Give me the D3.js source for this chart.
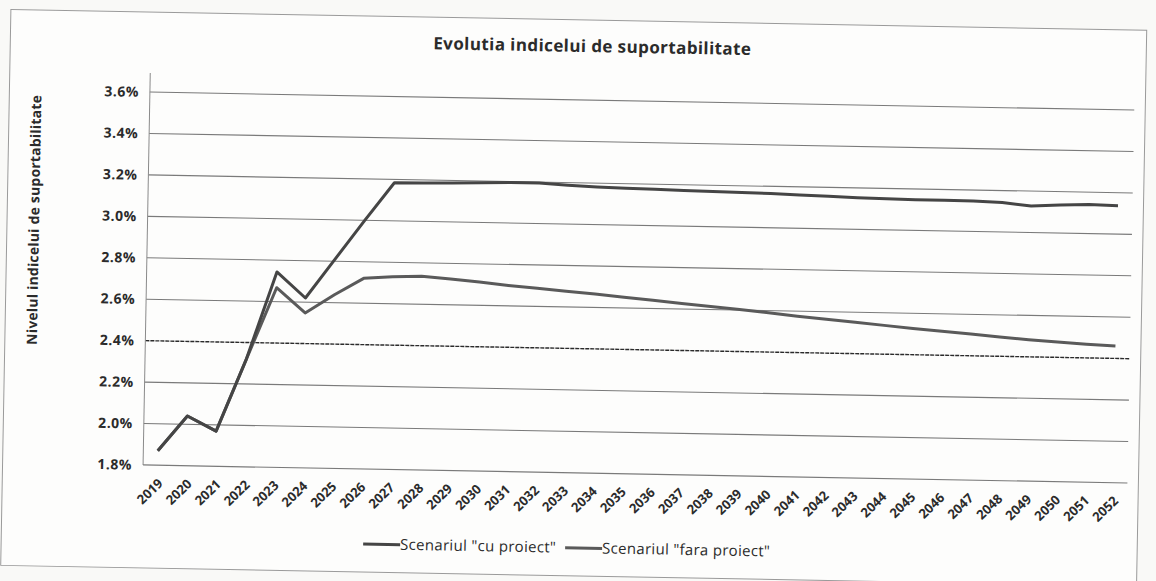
<!DOCTYPE html>
<html>
<head>
<meta charset="utf-8">
<title>Evolutia indicelui de suportabilitate</title>
<script src="https://d3js.org/d3.v7.min.js"></script>
<style>
  body { margin: 0; background: #f9f9f7; }
  svg text { font-family: "Open Sans", Lato, sans-serif; fill: #2b2b2b; }
</style>
</head>
<body>
<svg id="chart"></svg>
<script>
// data (values in %)
const years = d3.range(2019, 2053).map(String);
const cuProiect = [1.87, 2.04, 1.97, 2.32, 2.743, 2.62, 2.81, 3.0, 3.184, 3.185, 3.188, 3.192, 3.195, 3.195,
  3.187, 3.181, 3.178, 3.175, 3.172, 3.17, 3.168, 3.165, 3.161, 3.157, 3.153, 3.15, 3.148, 3.148,
  3.147, 3.142, 3.128, 3.135, 3.14, 3.137];
const faraProiect = [1.87, 2.04, 1.97, 2.32, 2.667, 2.548, 2.638, 2.72, 2.73, 2.735, 2.725, 2.712, 2.698, 2.687,
  2.676, 2.665, 2.652, 2.64, 2.627, 2.615, 2.603, 2.59, 2.575, 2.563, 2.551, 2.539, 2.527, 2.516,
  2.505, 2.493, 2.482, 2.474, 2.466, 2.46];
const yTicks = [1.8, 2.0, 2.2, 2.4, 2.6, 2.8, 3.0, 3.2, 3.4, 3.6];
const seriesNames = ['Scenariul "cu proiect"', 'Scenariul "fara proiect"'];
const seriesColors = ['#454545', '#5a5a5a'];

const W = 1156, H = 581;
const svg = d3.select('#chart').attr('width', W).attr('height', H);

// the scan is tilted by about one degree
const g = svg.append('g').attr('transform', 'rotate(1.05,147,278)');

g.append('rect')
  .attr('x', 6).attr('y', 12).attr('width', 1136).attr('height', 556)
  .attr('fill', '#fdfdfc').attr('stroke', '#9a9a9a').attr('stroke-width', 1);

const x0 = 146.5, x1 = 1131;
const xScale = d3.scalePoint().domain(years).range([x0, x1]).padding(0.5);
const yScale = d3.scaleLinear().domain([1.8, 3.6]).range([465, 92]);

// gridlines
g.append('g')
  .selectAll('line')
  .data(yTicks.slice(1))
  .join('line')
  .attr('x1', x0).attr('x2', x1)
  .attr('y1', d => yScale(d)).attr('y2', d => yScale(d))
  .attr('stroke', d => d === 2.4 ? '#2a2a2a' : '#7a7a7a')
  .attr('stroke-width', d => d === 2.4 ? 1.4 : 1.1)
  .attr('stroke-dasharray', d => d === 2.4 ? '4,1' : null);

// y axis
const yAxis = d3.axisLeft(yScale).tickValues(yTicks)
  .tickFormat(d => d.toFixed(1) + '%').tickSize(0).tickPadding(11);
const ya = g.append('g').attr('transform', `translate(${x0},0)`).call(yAxis);
ya.select('.domain').remove();
ya.selectAll('text').attr('font-size', 14).attr('font-weight', 'bold')
  .attr('letter-spacing', 0.5)
  .style('font-family', '"Open Sans", sans-serif').attr('fill', '#2b2b2b');
g.append('line').attr('x1', x0).attr('x2', x0).attr('y1', 73).attr('y2', 465)
  .attr('stroke', '#8a8a8a').attr('stroke-width', 1);

// x axis
const xAxis = d3.axisBottom(xScale).tickSize(0);
const xa = g.append('g').attr('transform', 'translate(0,465)').call(xAxis);
xa.select('.domain').remove();
g.append('line').attr('x1', x0).attr('x2', x1).attr('y1', 465).attr('y2', 465)
  .attr('stroke', '#7a7a7a').attr('stroke-width', 1.2);
xa.selectAll('text')
  .attr('font-size', 13).attr('font-weight', 'bold')
  .style('font-family', '"Open Sans", sans-serif').attr('fill', '#2b2b2b')
  .attr('text-anchor', 'end')
  .attr('dy', 0).attr('y', 0)
  .attr('transform', 'translate(6,19) rotate(-45)');

// lines
const line = d3.line().x((d, i) => xScale(years[i])).y(d => yScale(d));
[faraProiect, cuProiect].forEach((s, k) => {
  g.append('path').datum(s)
    .attr('d', line)
    .attr('fill', 'none')
    .attr('stroke', seriesColors[1 - k])
    .attr('stroke-width', 3)
    .attr('stroke-linejoin', 'round');
});

// title
g.append('text').attr('x', 588).attr('y', 44)
  .attr('text-anchor', 'middle').attr('font-size', 17).attr('font-weight', 'bold')
  .attr('letter-spacing', 0.4)
  .text('Evolutia indicelui de suportabilitate');

// y title
g.append('text')
  .attr('transform', 'translate(38,222) rotate(-90)')
  .attr('text-anchor', 'middle').attr('font-size', 14).attr('font-weight', 'bold')
  .attr('letter-spacing', 0.2)
  .text('Nivelul indicelui de suportabilitate');

// legend
const legendX = [368, 570];
const legend = g.selectAll('.legend')
  .data(seriesNames)
  .join('g')
  .attr('class', 'legend')
  .attr('transform', (d, i) => `translate(${legendX[i]},540)`);
legend.append('line')
  .attr('x1', 0).attr('x2', 37).attr('y1', 0).attr('y2', 0)
  .attr('stroke', (d, i) => seriesColors[i]).attr('stroke-width', 3);
legend.append('text')
  .attr('x', 37).attr('y', 5)
  .attr('font-size', 15).attr('letter-spacing', 0.3)
  .text(d => d);
</script>
</body>
</html>
